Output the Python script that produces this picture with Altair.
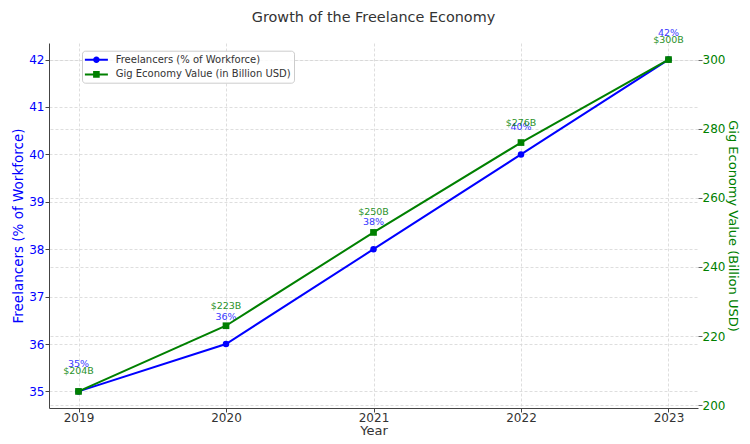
import altair as alt
import pandas as pd

years = [2019, 2020, 2021, 2022, 2023]
freelancers_pct = [35, 36, 38, 40, 42]
gig_value_busd = [204, 223, 250, 276, 300]
pct_labels = ["35%", "36%", "38%", "40%", "42%"]
gig_labels = ["$204B", "$223B", "$250B", "$276B", "$300B"]
series_names = ["Freelancers (% of Workforce)", "Gig Economy Value (in Billion USD)"]
series_colors = ["#0000ff", "#008000"]
pct_ticks = [35, 36, 37, 38, 39, 40, 41, 42]
gig_ticks = [200, 220, 240, 260, 280, 300]

pct_df = pd.DataFrame({"year": years, "value": freelancers_pct, "label": pct_labels})
gig_df = pd.DataFrame({"year": years, "value": gig_value_busd, "label": gig_labels})
legend_df = pd.DataFrame({"year": years[:2], "value": freelancers_pct[:2], "series": series_names})

FONT = "DejaVu Sans"
GRID = dict(grid=True, gridColor="#d6d6d6", gridDash=[3, 2], gridWidth=0.8)

x_enc = alt.X(
    "year:Q",
    scale=alt.Scale(domain=[2018.8, 2023.2], nice=False, zero=False),
    axis=alt.Axis(values=years, format="d", title="Year", labelColor="#333333",
                  titleColor="#333333", labelFontSize=12, titleFontSize=13,
                  titleFontWeight="normal", domainColor="#444444", tickColor="#444444",
                  tickSize=4, labelPadding=0, titlePadding=1, **GRID),
)

y_pct = alt.Y(
    "value:Q",
    scale=alt.Scale(domain=[34.65, 42.35], nice=False, zero=False),
    axis=alt.Axis(values=pct_ticks, title=series_names[0], orient="left",
                  labelColor="#0000ff", titleColor="#0000ff", labelFontSize=12,
                  titleFontSize=13.5, titleFontWeight="normal", domainColor="#444444",
                  tickColor="#444444", tickSize=4, labelPadding=1, titlePadding=3, **GRID),
)

y_gig = alt.Y(
    "value:Q",
    scale=alt.Scale(domain=[199.2, 304.8], nice=False, zero=False),
    axis=alt.Axis(values=gig_ticks, title="Gig Economy Value (Billion USD)", orient="right",
                  labelColor="#008000", titleColor="#008000", labelFontSize=12,
                  titleFontSize=13, titleFontWeight="normal", domain=False,
                  tickColor="#666666", tickSize=4, labelPadding=0, titlePadding=1, **GRID),
)

# legend symbol paths: line + marker
circle_path = ("M-1.017,-0.167 H0.4 V0.167 H-1.017 Z M1.4,-0.167 H2.817 V0.167 H1.4 Z "
               "M1.45,0 A0.55,0.55 0 1,1 0.35,0 A0.55,0.55 0 1,1 1.45,0 Z")
square_path = ("M-1.017,-0.167 H0.35 V0.167 H-1.017 Z M1.45,-0.167 H2.817 V0.167 H1.45 Z "
               "M0.35,-0.55 H1.45 V0.55 H0.35 Z")

legend_props = dict(title=None, orient="none", legendX=33, legendY=7.7, padding=3,
                    fillColor="rgba(255,255,255,0.85)", strokeColor="#cccccc", cornerRadius=3,
                    labelFontSize=10, labelFont=FONT, labelColor="#333333", labelOffset=18.7,
                    labelLimit=400, rowPadding=3.7, symbolSize=144, symbolStrokeWidth=0,
                    symbolOpacity=1)

blue_line = alt.Chart(pct_df).mark_line(color="#0000ff", strokeWidth=2).encode(x=x_enc, y=y_pct)
blue_pts = alt.Chart(pct_df).mark_point(shape="circle", filled=True, color="#0000ff",
                                        size=42, opacity=1).encode(x=x_enc, y=y_pct)
blue_txt = alt.Chart(pct_df).mark_text(dy=-27, fontSize=9.5, font=FONT, color="#0000ff",
                                       opacity=0.8).encode(x=x_enc, y=y_pct, text="label:N")
legend_layer = alt.Chart(legend_df).transform_filter("false").mark_point(
    filled=True, opacity=1, strokeWidth=0).encode(
    x=x_enc, y=y_pct,
    color=alt.Color("series:N", scale=alt.Scale(domain=series_names, range=series_colors),
                    legend=alt.Legend(**legend_props)),
    shape=alt.Shape("series:N", scale=alt.Scale(domain=series_names,
                                                range=[circle_path, square_path]),
                    legend=alt.Legend(**legend_props)),
)
blue = alt.layer(blue_line, blue_pts, blue_txt, legend_layer)

green_line = alt.Chart(gig_df).mark_line(color="#008000", strokeWidth=2).encode(x=x_enc, y=y_gig)
green_pts = alt.Chart(gig_df).mark_point(shape="square", filled=True, color="#008000",
                                         size=45, opacity=1).encode(x=x_enc, y=y_gig)
green_txt = alt.Chart(gig_df).mark_text(dy=-20, fontSize=9.5, font=FONT, color="#008000",
                                        opacity=0.85).encode(x=x_enc, y=y_gig, text="label:N")
green = alt.layer(green_line, green_pts, green_txt)

chart = alt.layer(blue, green).resolve_scale(y="independent").properties(
    width=649, height=365,
    padding={"left": 41, "top": 35, "right": 44, "bottom": 28},
    autosize=alt.AutoSizeParams(type="none"),
    title=alt.TitleParams("Growth of the Freelance Economy", fontSize=14.4, fontWeight="normal",
                          color="#333333", offset=2, anchor="middle", font=FONT),
).configure(font=FONT).configure_view(stroke=None)

chart.save("out.html", embed_options={"renderer": "svg", "actions": False})
